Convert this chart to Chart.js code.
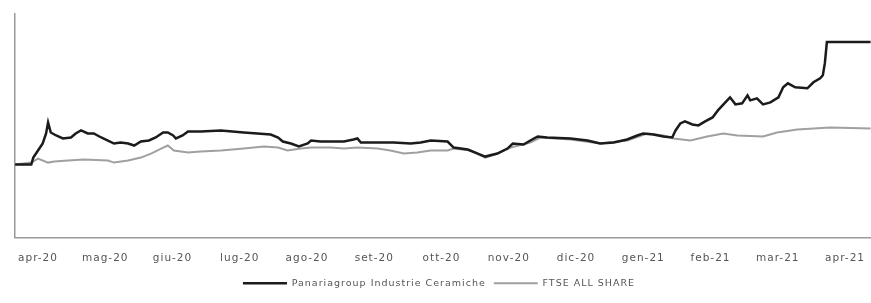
<!DOCTYPE html>
<html>
<head>
<meta charset="utf-8">
<script src="https://cdn.jsdelivr.net/npm/chart.js@4"></script>
<style>
  html, body { margin: 0; padding: 0; background: #fff; }
  #wrap { width: 871px; height: 303px; }
</style>
</head>
<body>
<div id="wrap"><canvas id="dispChart"></canvas></div>
<script>
  // month tick labels (x = month index, 0 = apr-20)
  const monthLabels = ['apr-20', 'mag-20', 'giu-20', 'lug-20', 'ago-20', 'set-20', 'ott-20',
    'nov-20', 'dic-20', 'gen-21', 'feb-21', 'mar-21', 'apr-21'];

  // Panariagroup (index, start = ~100)
  const panariaX = [-0.34, -0.10, -0.07, 0, 0.07, 0.12, 0.15, 0.19, 0.27, 0.37, 0.49, 0.56, 0.64, 0.74, 0.83,
    0.94, 1.04, 1.13, 1.23, 1.34, 1.43, 1.53, 1.65, 1.75, 1.86, 1.93, 2.01, 2.05, 2.15, 2.23, 2.42, 2.72,
    3.06, 3.46, 3.57, 3.64, 3.76, 3.88, 4.01, 4.06, 4.20, 4.55, 4.69, 4.75, 4.80, 5.05, 5.29, 5.54, 5.69,
    5.84, 6.09, 6.18, 6.39, 6.54, 6.65, 6.83, 6.98, 7.06, 7.22, 7.32, 7.43, 7.57, 7.92, 8.17, 8.36, 8.56,
    8.76, 8.91, 9.00, 9.15, 9.30, 9.43, 9.48, 9.55, 9.62, 9.73, 9.82, 9.92, 10.03, 10.11, 10.22, 10.29,
    10.37, 10.47, 10.55, 10.59, 10.69, 10.78, 10.89, 11.01, 11.08, 11.15, 11.26, 11.44, 11.53, 11.63,
    11.67, 11.70, 11.73, 12.38];
  const panariaY = [99, 99, 102.5, 106, 109.5, 114.5, 120, 115, 113.5, 112, 112.5, 114.5, 116, 114.5, 114.5,
    112.5, 111, 109.5, 110, 109.5, 108.5, 110.5, 111, 112.5, 115, 115, 113.5, 112, 113.5, 115.5, 115.5, 116,
    115, 114, 112.5, 110.5, 109.5, 108, 109.5, 111, 110.5, 110.5, 111.5, 112, 110, 110, 110, 109.5, 110,
    111, 110.5, 107.5, 106.5, 104.5, 103, 104.5, 107, 109.5, 109, 111, 113, 112.5, 112, 111, 109.5, 110,
    111.5, 113.5, 114.5, 114, 113, 112.5, 116, 119.5, 120.5, 119, 118.5, 120.5, 122.5, 126, 130, 132.5,
    129, 129.5, 133.5, 131, 132, 129, 130, 132.5, 137.5, 139.5, 137.5, 137, 140, 142,
    143.5, 149.5, 160, 160];

  // FTSE All Share
  const ftseX = [-0.34, -0.10, 0, 0.15, 0.24, 0.45, 0.68, 1.04, 1.13, 1.34, 1.53, 1.68, 1.83, 1.93, 2.02,
    2.23, 2.42, 2.72, 3.06, 3.36, 3.57, 3.71, 3.91, 4.06, 4.35, 4.55, 4.75, 5.05, 5.24, 5.44, 5.64, 5.84,
    6.09, 6.18, 6.43, 6.65, 6.83, 7.03, 7.32, 7.47, 7.92, 8.36, 8.76, 9.06, 9.30, 9.45, 9.70, 9.95, 10.19,
    10.40, 10.78, 10.99, 11.29, 11.78, 12.38];
  const ftseY = [99, 100, 102, 100, 100.5, 101, 101.5, 101, 100, 101, 102.5, 104.5, 107, 108.5, 106,
    105, 105.5, 106, 107, 108, 107.5, 106, 107, 107.5, 107.5, 107, 107.5, 107, 106, 104.5, 105, 106,
    106, 107, 106, 102.5, 104.5, 107.5, 110, 112.5, 111.5, 109.5, 111, 114.5, 113.5, 112, 111, 113, 114.5,
    113.5, 113, 115, 116.5, 117.5, 117];

  const toPoints = (xs, ys) => xs.map((x, i) => ({ x: x, y: ys[i] }));

  // wide, airy lettering like the original
  const spacing = {
    id: 'spacing',
    beforeUpdate: chart => { chart.ctx.letterSpacing = '1px'; },
    beforeDraw: chart => { chart.ctx.letterSpacing = '1px'; }
  };

  const data = {
    datasets: [{
      label: 'Panariagroup Industrie Ceramiche',
      data: toPoints(panariaX, panariaY),
      borderColor: '#1b1b1b',
      backgroundColor: '#1b1b1b',
      borderWidth: 2.5
    }, {
      label: 'FTSE ALL SHARE',
      data: toPoints(ftseX, ftseY),
      borderColor: '#a0a0a0',
      backgroundColor: '#a0a0a0',
      borderWidth: 2
    }]
  };

  const config = {
    type: 'line',
    data: data,
    plugins: [spacing],
    options: {
      responsive: true,
      maintainAspectRatio: false,
      animation: false,
      elements: { point: { radius: 0 }, line: { tension: 0 } },
      layout: { padding: { left: 7, right: 0, top: 14, bottom: 5 } },
      plugins: {
        tooltip: { enabled: false },
        legend: {
          position: 'bottom',
          labels: {
            usePointStyle: true,
            pointStyle: 'line',
            pointStyleWidth: 44,
            padding: 8,
            color: '#555',
            font: { family: 'DejaVu Sans', size: 9.5 }
          }
        }
      },
      scales: {
        x: {
          type: 'linear',
          min: -0.342,
          max: 12.386,
          afterBuildTicks: axis => {
            axis.ticks = monthLabels.map((m, i) => ({ value: i }));
          },
          grid: { display: false },
          border: { display: true, color: '#9a9a9a', width: 1.5 },
          ticks: {
            color: '#555',
            font: { family: 'DejaVu Sans', size: 10.5 },
            padding: 6,
            maxRotation: 0,
            autoSkip: false,
            callback: v => monthLabels[v]
          }
        },
        y: {
          min: 62.5,
          max: 174,
          grid: { display: false },
          border: { display: true, color: '#9a9a9a', width: 1.5 },
          ticks: { display: false }
        }
      }
    }
  };

  const myChart = new Chart(document.getElementById('dispChart'), config);
</script>
</body>
</html>
